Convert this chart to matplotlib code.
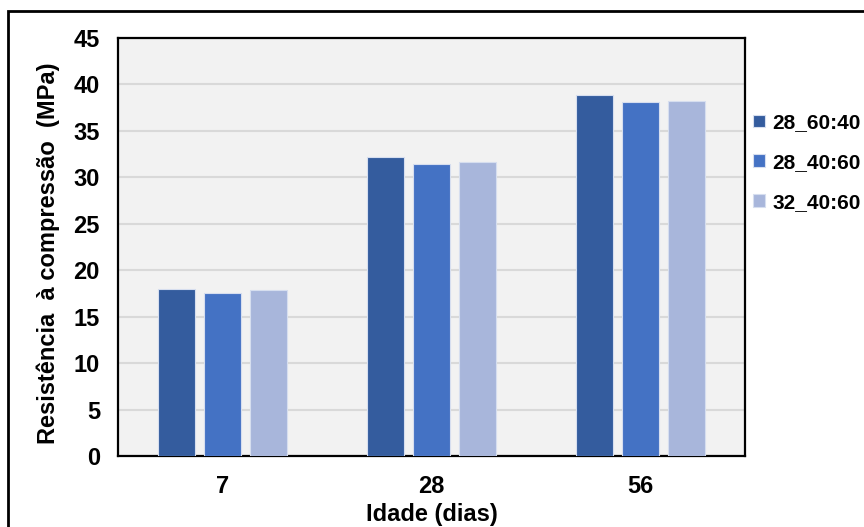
import matplotlib.pyplot as plt
from matplotlib.patches import Rectangle
import numpy as np

plt.rcParams['font.family'] = ['Liberation Sans', 'DejaVu Sans']
plt.rcParams['font.weight'] = 'bold'

# --- DATA ---
ages = ['7', '28', '56']
series_names = ['28_60:40', '28_40:60', '32_40:60']
s_28_60_40 = [18.0, 32.2, 38.9]
s_28_40_60 = [17.6, 31.4, 38.1]
s_32_40_60 = [17.9, 31.7, 38.2]
colors = ['#345C9E', '#4472C4', '#A8B6DB']

fig = plt.figure(figsize=(8.64, 5.27), dpi=100)
ax = fig.add_axes([0.1366, 0.1347, 0.7257, 0.7933])

x = np.arange(len(ages))
width = 0.177
step = 0.22
for i, (vals, name) in enumerate(zip([s_28_60_40, s_28_40_60, s_32_40_60], series_names)):
    ax.bar(x + (i - 1) * step, vals, width, color=colors[i], label=name,
           edgecolor='#D6DEEF', linewidth=0.8, zorder=3)

ax.set_facecolor('#F2F2F2')
ax.set_xlim(-0.5, 2.5)
ax.set_ylim(0, 45)
ax.set_yticks(range(0, 46, 5))
ax.set_xticks(x)
ax.set_xticklabels(ages)
ax.tick_params(length=0, labelsize=17)
ax.tick_params(axis='y', pad=13)
ax.tick_params(axis='x', pad=14)
ax.grid(axis='y', color='#D9D9D9', linewidth=1.5, zorder=0)
for s in ax.spines.values():
    s.set_color('black')
    s.set_linewidth(1.6)

ax.set_xlabel('Idade (dias)', fontsize=17, fontweight='bold', labelpad=3)
ax.set_ylabel('Resistência  à compressão  (MPa)', fontsize=17, fontweight='bold')
ax.yaxis.set_label_coords(-0.093, 0.484)

ax.legend(loc='upper left', bbox_to_anchor=(1.0, 0.84), frameon=False,
          prop={'size': 15, 'weight': 'bold'}, handlelength=0.55, handleheight=0.55,
          handletextpad=0.35, labelspacing=1.0, borderaxespad=0.0, borderpad=0.4)

# outer frame around the whole chart
fig.patches.append(Rectangle((8 / 864, -0.2), 1.2, 1.2 - 11 / 527,
                             transform=fig.transFigure, fill=False,
                             edgecolor='black', linewidth=2))

fig.savefig('out.png', dpi=100)
